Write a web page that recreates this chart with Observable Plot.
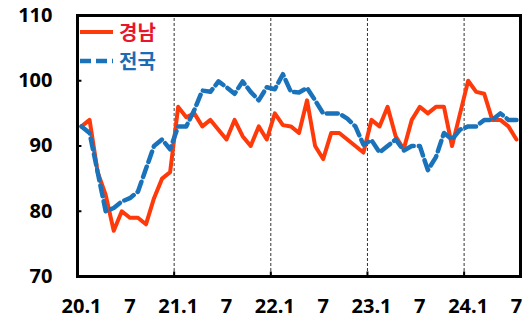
<!DOCTYPE html>
<html>
<head>
<meta charset="utf-8">
<script src="https://cdn.jsdelivr.net/npm/d3@7"></script>
<script src="https://cdn.jsdelivr.net/npm/@observablehq/plot@0.6"></script>
<style>
  html, body { margin: 0; padding: 0; background: #fff; }
  #wrap { position: relative; width: 529px; height: 319px; }
  #legend { position: absolute; left: 79px; top: 17px; font-family: "Noto Sans CJK KR", sans-serif; font-weight: 700; font-size: 20px; line-height: 29px; }
  #legend .row { display: flex; align-items: center; height: 29px; }
  #legend svg { margin-right: 5px; }
</style>
</head>
<body>
<div id="wrap"><div id="chart"></div><div id="legend"></div></div>
<script>
// Month-index tick labels (every 6 months from 2020.1)
const xTickLabels = ["20.1", "7", "21.1", "7", "22.1", "7", "23.1", "7", "24.1", "7"];
const yTicks = [70, 80, 90, 100, 110];
const yearStarts = [12, 24, 36, 48]; // month index of each January after 2020
const seriesNames = ["경남", "전국"];
const seriesColors = ["#FF3A0A", "#1A73BA"];
const labelColors = ["#E8162C", "#1A6DB5"];

// 2020.1 – 2024.7 (55 months)
const gyeongnam = [93, 94, 86, 82.5, 77, 80, 79, 79, 78, 82, 85, 86,
  96, 94.4, 95, 93, 94, 92.5, 91, 94, 91.5, 90, 93, 91,
  95, 93.2, 93, 92, 97, 90, 88, 92, 92, 91, 90, 89,
  94, 93, 96, 91.5, 89.5, 94, 96, 95, 96, 96, 90, 95,
  100, 98.3, 98, 94, 94, 93, 91];
const national = [93, 92, 86, 80, 80.5, 81.5, 82, 83, 86.5, 90, 91, 89.5,
  93, 93, 95.5, 98.5, 98.3, 99.9, 99, 98, 99.9, 98.3, 97, 99,
  98.7, 101, 98.3, 98.2, 98.9, 97, 95, 95, 95, 94.2, 93, 90.2,
  90.9, 89, 90, 91, 89.3, 90, 90, 86.3, 88.3, 92, 91, 92.5,
  93, 93, 94, 94, 95, 94, 94];

const xTickPos = xTickLabels.map((d, k) => k * 6 + 0.5);

const chart = Plot.plot({
  width: 529,
  height: 319,
  marginLeft: 77,
  marginRight: 9,
  marginTop: 15,
  marginBottom: 43,
  style: { fontFamily: "'Noto Sans', sans-serif", background: "white", color: "black" },
  x: { domain: [0, 55], axis: null },
  y: { domain: [70, 110], axis: null },
  marks: [
    Plot.ruleX(yearStarts, { y1: 70, y2: 110, stroke: "#333", strokeWidth: 1, strokeDasharray: "3,2" }),
    Plot.lineY(gyeongnam, { x: (d, i) => i + 0.5, y: d => d, stroke: seriesColors[0], strokeWidth: 4, strokeLinejoin: "round" }),
    Plot.lineY(national, { x: (d, i) => i + 0.5, y: d => d, stroke: seriesColors[1], strokeWidth: 4.5, strokeDasharray: "11,5", strokeLinejoin: "round" }),
    Plot.ruleY(yTicks.slice(1, -1), { x1: 0, x2: 0.55, stroke: "black", strokeWidth: 2 }),
    Plot.ruleX(yearStarts, { y1: 70, y2: 70.7, stroke: "black", strokeWidth: 2 }),
    Plot.frame({ stroke: "black", strokeWidth: 3 }),
    Plot.axisY({ ticks: yTicks, tickSize: 0, tickPadding: 25, fontSize: 20, fontWeight: "bold", tickFormat: d => String(d) }),
    Plot.axisX({ ticks: xTickPos, tickSize: 0, tickPadding: 22, fontSize: 20, fontWeight: "bold", tickFormat: (d, k) => xTickLabels[Math.round((d - 0.5) / 6)] })
  ]
});
document.getElementById("chart").appendChild(chart);

// Legend
const legend = document.getElementById("legend");
seriesNames.forEach((name, k) => {
  const row = document.createElement("div");
  row.className = "row";
  const dash = k === 1 ? 'stroke-dasharray="11,5"' : "";
  row.innerHTML = `<svg width="35" height="10"><line x1="1" y1="5" x2="34" y2="5" stroke="${seriesColors[k]}" stroke-width="${k === 1 ? 4.5 : 4}" ${dash}/></svg><span style="color:${labelColors[k]}">${name}</span>`;
  legend.appendChild(row);
});
</script>
</body>
</html>
